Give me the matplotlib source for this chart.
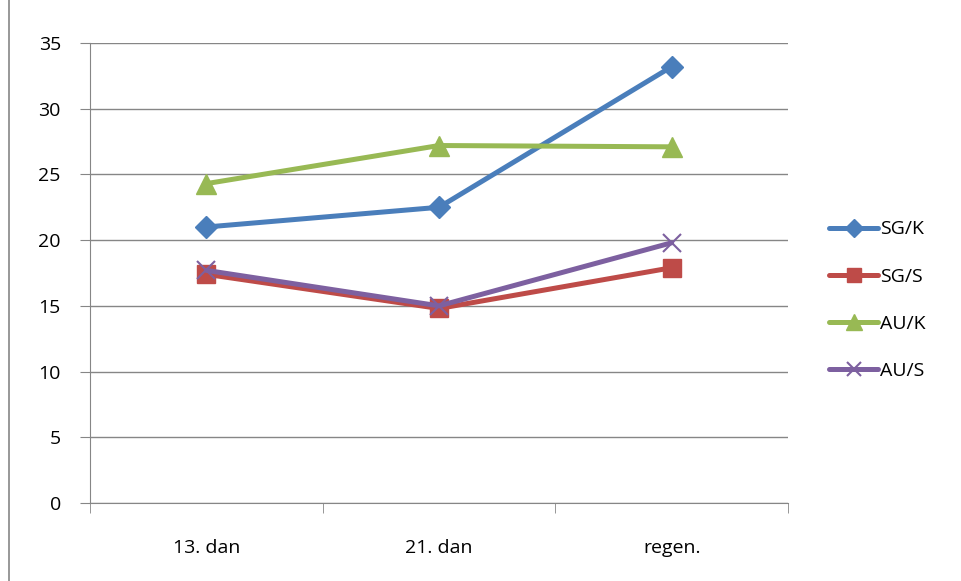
import matplotlib.pyplot as plt
from matplotlib.lines import Line2D

categories = ["13. dan", "21. dan", "regen."]
sg_k = [21.0, 22.5, 33.2]
sg_s = [17.4, 14.8, 17.9]
au_k = [24.3, 27.2, 27.1]
au_s = [17.7, 15.0, 19.8]

series = [
    ("SG/K", sg_k, "#4A7EBB", "D", 11.5),
    ("SG/S", sg_s, "#BE4B48", "s", 13),
    ("AU/K", au_k, "#98B954", "^", 14),
    ("AU/S", au_s, "#7D60A0", "x", 13),
]

plt.rcParams["font.family"] = ["Open Sans", "DejaVu Sans"]

fig = plt.figure(figsize=(9.61, 5.81), dpi=100)
ax = fig.add_axes([90 / 961, 1 - 503 / 581, 698 / 961, 460 / 581])

x = list(range(len(categories)))
for name, vals, color, marker, ms in series:
    ax.plot(x, vals, color=color, lw=3.6, marker=marker, ms=ms,
            mec=color, mfc=color, mew=1.5 if marker == "x" else 1,
            label=name, solid_capstyle="round", zorder=3)

ax.set_xlim(-0.5, 2.5)
ax.set_ylim(0, 35)
ax.set_yticks(range(0, 36, 5))
ax.set_xticks(x)
ax.set_xticklabels(categories)
ax.set_xticks([-0.5, 0.5, 1.5, 2.5], minor=True)
ax.tick_params(axis="x", which="major", length=0, pad=26, labelsize=14)
ax.tick_params(axis="x", which="minor", length=7, color="#868686", direction="out")
ax.tick_params(axis="y", length=7, color="#868686", pad=14, labelsize=14)
ax.grid(axis="y", color="#868686", lw=1, zorder=0)
for side in ["top", "right"]:
    ax.spines[side].set_visible(False)
for side in ["left", "bottom"]:
    ax.spines[side].set_color("#868686")

leg = ax.legend(loc="center left", bbox_to_anchor=(1.048, 0.441), frameon=False,
                fontsize=14, handlelength=2.5, labelspacing=1.5,
                handletextpad=0.1, borderaxespad=0, markerscale=0.8)

# outer chart frame
fig.add_artist(Line2D([9 / 961, 9 / 961], [0, 1], color="#868686", lw=1.2,
                      transform=fig.transFigure))

fig.savefig("out.png", dpi=100)
